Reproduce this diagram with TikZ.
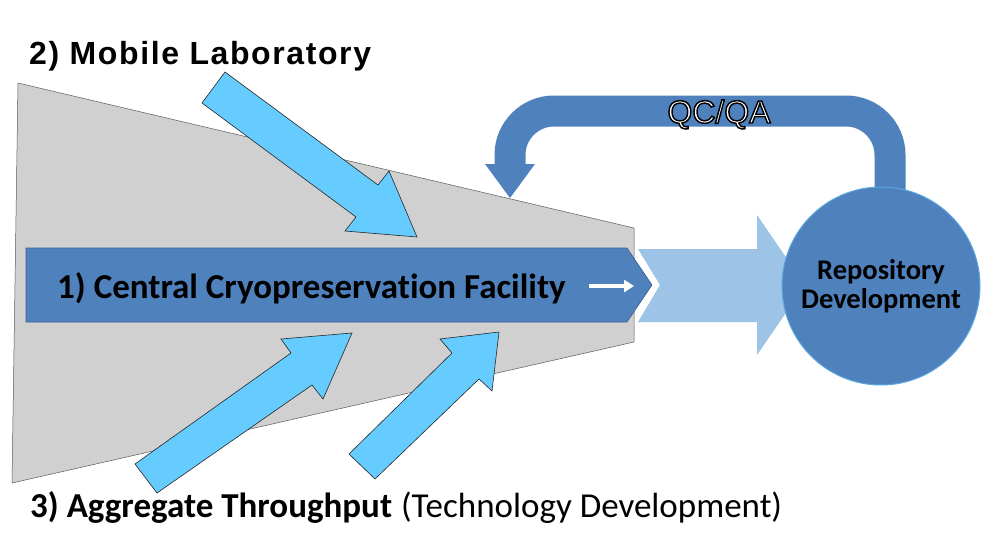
\documentclass[tikz,border=0pt]{standalone}
\usepackage{fontspec}
\setmainfont[Ligatures=NoCommon]{Carlito}
\newfontfamily\qcfont[FakeBold=4.5]{Liberation Sans}
\newfontfamily\arialspaced[LetterSpace=5]{Liberation Sans}
\usetikzlibrary{arrows.meta}
\definecolor{greyfill}{HTML}{D0D0D0}
\definecolor{darkblue}{HTML}{4F81BD}
\definecolor{darkline}{HTML}{3A5F8E}
\definecolor{paleblue}{HTML}{9DC3E6}
\definecolor{skyblue}{HTML}{66CCFF}
\definecolor{ringblue}{HTML}{5BA8E0}
\newcommand{\outlinedqc}[1]{{\color{white}\special{pdf:literal direct 0 0 0 RG}\qcfont #1}}
\begin{document}
\begin{tikzpicture}[x=1pt,y=-1pt,
  inarrow/.style={fill=skyblue, draw=black!85, line width=0.6pt, line join=miter},
  bigtext/.style={font=\bfseries\fontsize{35}{35}\selectfont, inner sep=0pt, anchor=base west},
  funnel/.style={fill=greyfill, draw=black!65, line width=0.5pt},
  band/.style={fill=darkblue, draw=darkline, line width=0.6pt},
  loopline/.style={draw=darkblue, line width=31pt, rounded corners=44pt}]
\useasboundingbox (0,0) rectangle (996,557);
% grey funnel
\draw[funnel] (18,83) -- (634,228) -- (634,342) -- (12,483) -- cycle;
% central facility band
\draw[band] (26,248) -- (627,248) -- (652,285) -- (627,322) -- (26,322) -- cycle;
\node[bigtext] (central) at (57,298) {1) Central Cryopreservation Facility};
\coordinate (wa) at (589,286);
\coordinate (wb) at (634,286);
\draw[white, line width=3.6pt, -{Triangle[length=10pt,width=12pt]}] (wa) -- (wb);
% mobile lab arrow
\draw[inarrow] (225,72) -- (378,185) -- (389,171) -- (417,237) -- (345,231) -- (356,217) -- (202,103) -- cycle;
% aggregate arrows
\draw[inarrow] (135,464) -- (291,353) -- (281,339) -- (352,333) -- (323,399) -- (312,385) -- (157,493) -- cycle;
\draw[inarrow] (349,454) -- (452,353) -- (440,339) -- (499,332) -- (492,391) -- (479,379) -- (375,479) -- cycle;
% QC/QA loop
\draw[loopline] (890,210) -- (890,111) -- (510,111) -- (510,168);
\fill[darkblue] (485,164) -- (535,164) -- (510,198) -- cycle;
\node[font=\fontsize{32}{32}\selectfont, anchor=base, inner sep=0pt] (qc) at (719,123) {\outlinedqc{QC/QA}};
% big pale arrow
\fill[paleblue] (638,249) -- (757,249) -- (757,215) -- (805,285) -- (757,355) -- (757,322) -- (638,322) -- (660,285) -- cycle;
% repository circle
\node[circle, minimum size=198pt, inner sep=0pt, fill=darkblue, draw=ringblue, line width=1pt, align=center,
  font=\bfseries\fontsize{28.5}{28.5}\selectfont] (repo) at (881,286) {Repository\\Development};
% labels
\node[font=\arialspaced\bfseries\fontsize{32}{32}\selectfont, inner sep=0pt, anchor=base west] (mobile) at (29,64) {2) Mobile Laboratory};
\node[bigtext] (aggr) at (30,517) {3) Aggregate Throughput\hspace{9pt}{\mdseries (Technology Development)}};
\end{tikzpicture}
\end{document}
